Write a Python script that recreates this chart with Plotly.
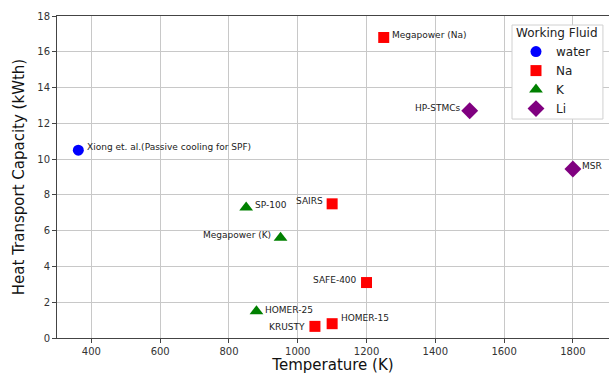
import plotly.graph_objects as go

# ---- data ----
names = ["Xiong et. al.(Passive cooling for SPF)", "Megapower (Na)", "HP-STMCs", "MSR",
         "SP-100", "SAIRS", "Megapower (K)", "SAFE-400", "HOMER-25", "KRUSTY", "HOMER-15"]
temperature = [362, 1250, 1500, 1800, 850, 1100, 950, 1200, 880, 1050, 1100]
capacity = [10.5, 16.8, 12.7, 9.45, 7.3, 7.5, 5.6, 3.1, 1.5, 0.65, 0.8]
fluid = ["water", "Na", "Li", "Li", "K", "Na", "K", "Na", "K", "Na", "Na"]

fluids = ["water", "Na", "K", "Li"]
legend_title = "Working Fluid"
x_ticks = [400, 600, 800, 1000, 1200, 1400, 1600, 1800]
y_ticks = [0, 2, 4, 6, 8, 10, 12, 14, 16, 18]

# ---- style ----
colors = {"water": "blue", "Na": "red", "K": "green", "Li": "purple"}
symbols = {"water": "circle", "Na": "square", "K": "triangle-up", "Li": "diamond"}
msize = {"water": 11, "Na": 11, "K": 12, "Li": 13}
# label placement: (xanchor, xshift, yshift)
label_pos = {
    "Xiong et. al.(Passive cooling for SPF)": ("left", 7, 3),
    "Megapower (Na)": ("left", 6, 2),
    "HP-STMCs": ("right", -7, 3),
    "MSR": ("left", 7, 3),
    "SP-100": ("left", 7, 2),
    "SAIRS": ("right", -7, 3),
    "Megapower (K)": ("right", -8, 3),
    "SAFE-400": ("right", -8, 3),
    "HOMER-25": ("left", 7, 1),
    "KRUSTY": ("right", -8, -1),
    "HOMER-15": ("left", 7, 6),
}

fig = go.Figure()
for f in fluids:
    xs = [t for t, fl in zip(temperature, fluid) if fl == f]
    ys = [c for c, fl in zip(capacity, fluid) if fl == f]
    fig.add_trace(go.Scatter(
        x=xs, y=ys, mode="markers", name=f,
        marker=dict(color=colors[f], symbol=symbols[f], size=msize[f], line=dict(width=0)),
    ))

for n, t, c in zip(names, temperature, capacity):
    xa, xs_, ys_ = label_pos[n]
    fig.add_annotation(x=t, y=c, text=n, showarrow=False, xanchor=xa, yanchor="middle",
                       xshift=xs_, yshift=ys_, font=dict(size=9, color="#222"))

# legend frame and title
fig.add_shape(type="rect", xref="paper", yref="paper", x0=0.8243, x1=0.989, y0=0.680, y1=0.972,
              fillcolor="white", line=dict(color="#d0d0d0", width=1), layer="above")
fig.add_annotation(xref="paper", yref="paper", x=0.9067, y=0.947, text=legend_title,
                   showarrow=False, xanchor="center", yanchor="middle",
                   font=dict(size=12, color="#222"))

axis_common = dict(showline=True, linecolor="#444", linewidth=1, mirror=True,
                   showgrid=True, gridcolor="#c8c8c8", gridwidth=1,
                   ticks="outside", ticklen=4, tickcolor="#444",
                   tickfont=dict(size=10, color="#333"), zeroline=False,
                   automargin=False)

fig.update_layout(
    width=609, height=374,
    margin=dict(l=57, r=0, t=16, b=36),
    paper_bgcolor="white", plot_bgcolor="white",
    font=dict(family="DejaVu Sans", color="#222"),
    xaxis=dict(range=[300, 1905], tickvals=x_ticks,
               title=dict(text="Temperature (K)", font=dict(size=15, color="#111"), standoff=4),
               **axis_common),
    yaxis=dict(range=[0, 18], tickvals=y_ticks,
               title=dict(text="Heat Transport Capacity (kWth)", font=dict(size=15, color="#111"), standoff=9),
               **axis_common),
    legend=dict(x=0.8315, y=0.9345, xanchor="left", yanchor="top",
                bgcolor="rgba(0,0,0,0)", borderwidth=0,
                font=dict(size=12, color="#222"), tracegroupgap=0),
    showlegend=True,
)

fig.write_html("out.html", post_script="document.body.style.margin='0';",
               config={"displayModeBar": False})
